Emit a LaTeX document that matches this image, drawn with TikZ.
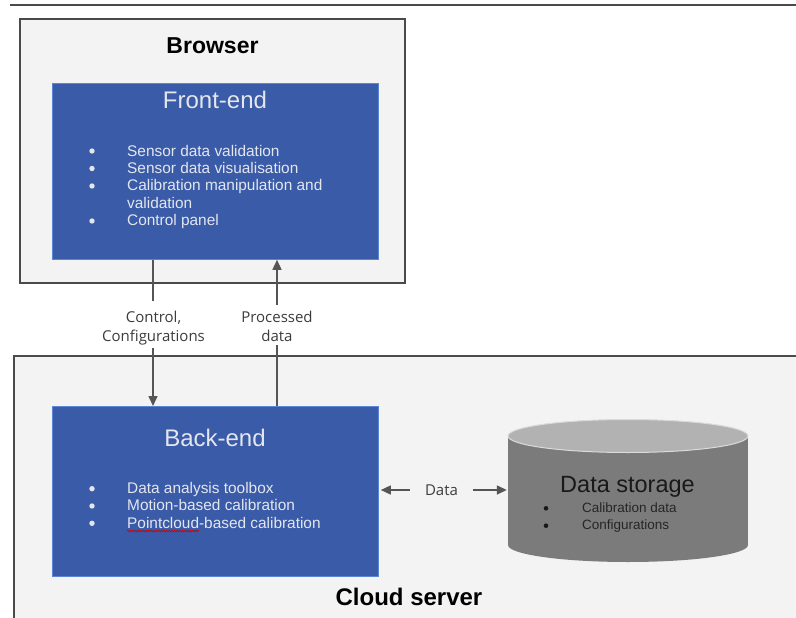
\documentclass[tikz,border=0pt]{standalone}
\usepackage{fontspec}
\setmainfont{Liberation Sans}
\newfontfamily\labelfont{Open Sans}
\usetikzlibrary{arrows.meta,decorations.pathmorphing}
\definecolor{panel}{HTML}{F3F3F3}
\definecolor{frame}{HTML}{4A4A4A}
\definecolor{tierblue}{HTML}{3A5BA8}
\definecolor{tieredge}{HTML}{5C86D4}
\definecolor{tiertext}{HTML}{E4E6EE}
\definecolor{link}{HTML}{555555}
\definecolor{linktext}{HTML}{3C3C3C}
\definecolor{cylbody}{HTML}{7B7B7B}
\definecolor{cyltop}{HTML}{B2B2B2}
\definecolor{cylrim}{HTML}{DADADA}

\begin{document}
\begin{tikzpicture}[x=1pt,y=-1pt,
  container/.style={draw=frame,line width=2pt,fill=panel},
  tier/.style={draw=tieredge,line width=0.8pt,fill=tierblue,minimum width=326pt,
    inner sep=0pt,anchor=north west},
  boxtitle/.style={font=\bfseries\fontsize{23}{27}\selectfont,text=black,anchor=base},
  tiertitle/.style={font=\fontsize{24}{28}\selectfont,text=tiertext,anchor=base},
  item/.style={font=\fontsize{15.4}{17}\selectfont,text=tiertext,anchor=base west,inner sep=0pt},
  storeitem/.style={font=\fontsize{13.5}{16}\selectfont,text=black!85,anchor=base west,inner sep=0pt},
  flowlabel/.style={font=\labelfont\fontsize{15}{19}\selectfont,text=linktext,anchor=base,inner sep=0pt},
  flow/.style={draw=link,line width=1.5pt},
  flowtip/.style={flow,-{Triangle[length=10pt,width=9pt]}},
]
\useasboundingbox (0,0) rectangle (796,618);
\fill[white] (0,0) rectangle (796,618);

% rule across the top
\draw[frame,line width=1.5pt] (10,5) -- (796,5);

% Browser container
\draw[container] (20,19) rectangle (405,283);
\node[boxtitle] (browser) at (212.5,53.5) {Browser};

% Cloud server container, running past the right and bottom edges
\begin{scope}
  \clip (0,0) rectangle (796,618);
  \draw[container] (14,356) rectangle (810,630);
\end{scope}
\node[boxtitle,font=\bfseries\fontsize{24}{28}\selectfont] (cloud) at (409,605) {Cloud server};

% Front-end
\node[tier,minimum height=176pt] (fe) at (52,83) {};
\node[tiertitle] (fetitle) at (215,109) {Front-end};
\foreach \y in {151,168.5,186,221} \fill[tiertext] (92,\y) circle (2.7pt);
\node[item] (fe1) at (127,156) {Sensor data validation};
\node[item] (fe2) at (127,173.4) {Sensor data visualisation};
\node[item] (fe3) at (127,190.8) {Calibration manipulation and};
\node[item] (fe4) at (127,208.2) {validation};
\node[item] (fe5) at (127,225.6) {Control panel};

% Back-end
\node[tier,minimum height=170pt] (be) at (52,406) {};
\node[tiertitle] (betitle) at (215,446) {Back-end};
\foreach \y in {488.7,506,523.3} \fill[tiertext] (92,\y) circle (2.7pt);
\node[item] (be1) at (127,493.3) {Data analysis toolbox};
\node[item] (be2) at (127,510.7) {Motion-based calibration};
\node[item] (be3) at (127,528) {Pointcloud-based calibration};
\draw[red!80!black,line width=0.6pt,decorate,
  decoration={snake,amplitude=0.9pt,segment length=2.6pt}]
  (be3.base west) ++(0,3) -- ++(72,0);

% Data storage cylinder
\node[minimum width=240pt,minimum height=126pt,inner sep=0pt] (ds) at (628,490) {};
\fill[cylbody] (508,436) rectangle (748,545);
\fill[cylbody] (628,545) ellipse [x radius=120,y radius=17];
\fill[cyltop] (628,436) ellipse [x radius=120,y radius=16.5];
\draw[cylrim,line width=1pt] (628,436) ellipse [x radius=120,y radius=16.5];
\node[font=\fontsize{23.5}{28}\selectfont,text=black!90,anchor=base] (dstitle) at (627.5,492) {Data storage};
\foreach \y in {508.3,525.7} \fill[black!90] (546,\y) circle (2.3pt);
\node[storeitem] (ds1) at (582,512.5) {Calibration data};
\node[storeitem] (ds2) at (582,529.5) {Configurations};

% Control flow from front-end to back-end
\node[flowlabel] (ctlA) at (153.5,322.7) {Control,};
\node[flowlabel] (ctlB) at (153.5,341.7) {Configurations};
\coordinate (ctltop) at (153,301);
\coordinate (ctlbot) at (153,348);
\draw[flow] (fe.south -| ctltop) -- (ctltop);
\draw[flowtip] (ctlbot) -- (be.north -| ctlbot);

% Processed data from back-end to front-end
\node[flowlabel] (procA) at (277,322) {Processed};
\node[flowlabel] (procB) at (277,341) {data};
\coordinate (proctop) at (277,305);
\coordinate (procbot) at (277,345);
\draw[flow] (be.north -| procbot) -- (procbot);
\draw[flowtip] (proctop) -- (fe.south -| proctop);

% Data exchange between back-end and storage
\node[font=\labelfont\fontsize{15}{19}\selectfont,text=linktext,inner sep=0pt] (data) at (441.5,490) {Data};
\draw[flowtip] ([xshift=-15pt]data.west) -- ([xshift=2pt]be.east |- data.west);
\draw[flowtip] ([xshift=15pt]data.east) -- ([xshift=-1pt]ds.west |- data.east);
\end{tikzpicture}
\end{document}
